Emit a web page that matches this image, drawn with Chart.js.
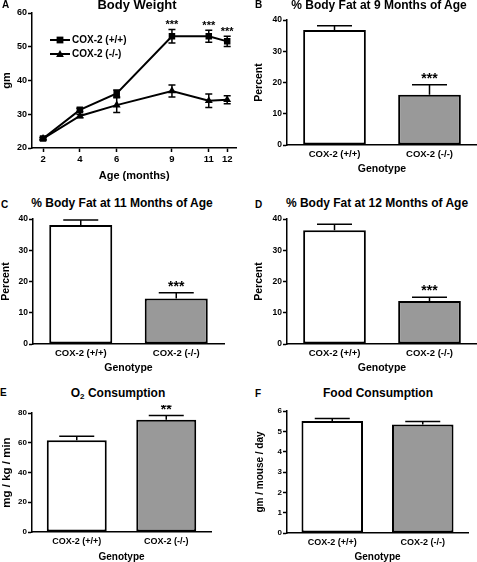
<!DOCTYPE html>
<html>
<head>
<meta charset="utf-8">
<script src="https://cdn.jsdelivr.net/npm/chart.js@4.4.0/dist/chart.umd.min.js"></script>
<style>
  body { margin: 0; background: #fff; width: 477px; height: 562px; position: relative; overflow: hidden;
         font-family: "Liberation Sans", Arial, sans-serif; }
  canvas { position: absolute; }
  .txt { position: absolute; font-weight: bold; line-height: 1; white-space: nowrap; color: #000; }
</style>
</head>
<body>
<canvas id="chartA" width="241" height="178"></canvas>
<canvas id="chartB" width="224" height="163"></canvas>
<canvas id="chartC" width="228" height="163"></canvas>
<canvas id="chartD" width="224" height="163"></canvas>
<canvas id="chartE" width="215" height="158"></canvas>
<canvas id="chartF" width="218" height="160"></canvas>

<script>
// ---- data ----
const ages = [2, 4, 6, 9, 11, 12];
const ageTicks = [2, 4, 6, 9, 11, 12];
const weightWT = [22.8, 31.3, 36.2, 53.1, 53.1, 51.6];
const weightWTErr = [0.3, 0.5, 1.0, 2.0, 1.8, 1.5];
const weightKO = [22.8, 29.5, 32.7, 36.9, 34.0, 34.3];
const weightKOErr = [0.3, 0.5, 2.2, 1.8, 2.0, 1.2];
const weightStars = ['', '', '', '***', '***', '***'];

const genotypes = ['COX-2 (+/+)', 'COX-2 (-/-)'];
const fat9 = [36.8, 16.1];
const fat9Err = [1.4, 3.2];
const fat11 = [38.1, 14.6];
const fat11Err = [1.6, 1.8];
const fat12 = [36.4, 13.8];
const fat12Err = [1.9, 1.2];
const fatStars = ['', '***'];
const o2 = [61.6, 75.5];
const o2Err = [2.7, 2.9];
const o2Stars = ['', '**'];
const food = [5.51, 5.33];
const foodErr = [0.12, 0.15];

// ---- panel letters and titles ----
const labels = [
  { t: 'A', x: 2, base: 8.5, size: 10 },
  { t: 'B', x: 255, base: 8.5, size: 10 },
  { t: 'C', x: 1, base: 208.3, size: 10 },
  { t: 'D', x: 255, base: 208.3, size: 10 },
  { t: 'E', x: 0, base: 396.7, size: 10 },
  { t: 'F', x: 255, base: 397.5, size: 10 },
  { t: 'Body Weight', cx: 137, base: 9, size: 13 },
  { t: '% Body Fat at 9 Months of Age', cx: 379, base: 9, size: 12 },
  { t: '% Body Fat at 11 Months of Age', cx: 122, base: 207.3, size: 12 },
  { t: '% Body Fat at 12 Months of Age', cx: 377, base: 207.3, size: 12 },
  { t: 'O<sub style="font-size:8px;vertical-align:-2px">2</sub> Consumption', cx: 118, base: 396.7, size: 12 },
  { t: 'Food Consumption', cx: 378, base: 396.7, size: 12 }
];
labels.forEach(l => {
  const d = document.createElement('div');
  d.className = 'txt';
  d.innerHTML = l.t;
  d.style.fontSize = l.size + 'px';
  d.style.top = (l.base - 0.8465 * l.size) + 'px';
  if (l.cx !== undefined) {
    d.style.left = l.cx + 'px';
    d.style.transform = 'translateX(-50%)';
  } else {
    d.style.left = l.x + 'px';
  }
  document.body.appendChild(d);
});

Chart.defaults.font.family = '"Liberation Sans", Arial, sans-serif';
Chart.defaults.font.weight = 'bold';
Chart.defaults.color = '#000';

// error bars + significance stars, drawn through the chart's scales
const errorBars = {
  id: 'errorBars',
  afterDatasetsDraw(chart) {
    const ctx = chart.ctx;
    chart.data.datasets.forEach((ds, i) => {
      if (!ds.errors) return;
      const meta = chart.getDatasetMeta(i);
      const yScale = chart.scales[meta.yAxisID];
      ctx.save();
      ctx.strokeStyle = '#000';
      ctx.lineWidth = 1.5;
      meta.data.forEach((el, j) => {
        const d = ds.data[j];
        const v = typeof d === 'object' ? d.y : d;
        const e = ds.errors[j];
        const x = el.x;
        const yTop = yScale.getPixelForValue(v + e);
        const yBot = ds.errorBoth ? yScale.getPixelForValue(v - e) : yScale.getPixelForValue(v);
        const hw = ds.capWidth / 2;
        ctx.beginPath();
        ctx.moveTo(x, yTop); ctx.lineTo(x, yBot);
        ctx.moveTo(x - hw, yTop); ctx.lineTo(x + hw, yTop);
        if (ds.errorBoth) { ctx.moveTo(x - hw, yBot); ctx.lineTo(x + hw, yBot); }
        ctx.stroke();
        if (ds.stars && ds.stars[j]) {
          ctx.fillStyle = '#000';
          ctx.font = 'bold ' + ds.starSize + 'px "Liberation Sans", Arial, sans-serif';
          ctx.textAlign = 'center';
          ctx.textBaseline = 'alphabetic';
          ctx.fillText(ds.stars[j], x, yTop - ds.starGap);
        }
      });
      ctx.restore();
    });
  }
};

const insetLegend = {
  id: 'insetLegend',
  afterDraw(chart, args, opts) {
    if (!opts || !opts.display) return;
    const ctx = chart.ctx;
    const ca = chart.chartArea;
    chart.data.datasets.forEach((ds, i) => {
      const x = ca.left + opts.left;
      const y = ca.top + opts.top + i * opts.gap;
      ctx.save();
      ctx.strokeStyle = '#000';
      ctx.fillStyle = '#000';
      ctx.lineWidth = 2;
      ctx.beginPath(); ctx.moveTo(x, y); ctx.lineTo(x + 20, y); ctx.stroke();
      const r = 3.4;
      ctx.beginPath();
      if (ds.pointStyle === 'rect') {
        ctx.rect(x + 10 - r, y - r, 2 * r, 2 * r);
      } else {
        ctx.moveTo(x + 10, y - r - 0.5);
        ctx.lineTo(x + 10 + r + 0.5, y + r - 0.5);
        ctx.lineTo(x + 10 - r - 0.5, y + r - 0.5);
        ctx.closePath();
      }
      ctx.fill();
      ctx.font = 'bold 10px "Liberation Sans", Arial, sans-serif';
      ctx.textBaseline = 'middle';
      ctx.textAlign = 'left';
      ctx.fillText(ds.label, x + 22, y + 0.5);
      ctx.restore();
    });
  }
};

function place(id, area, yW, xH, padTop, padRight) {
  const c = document.getElementById(id);
  c.style.left = (area.l - yW) + 'px';
  c.style.top = (area.t - padTop) + 'px';
  c.width = area.r - area.l + yW + padRight;
  c.height = area.b - area.t + padTop + xH;
  return c;
}

function yAxis(min, max, step, title, w, tickSize, titleSize) {
  return {
    min: min, max: max,
    ticks: { stepSize: step, color: '#000', font: { size: tickSize, weight: 'bold' }, padding: 1 },
    grid: { drawOnChartArea: false, drawTicks: true, tickLength: 4, tickColor: '#000', tickWidth: 1.5 },
    border: { display: true, color: '#000', width: 1.5 },
    title: { display: true, text: title, color: '#000', font: { size: titleSize, weight: 'bold' }, padding: 0 },
    afterFit: s => { s.width = w; }
  };
}

function barChart(id, area, yW, xH, values, errs, stars, yMin, yMax, step, yTitle, opts) {
  const c = place(id, area, yW, xH, 8, opts.padRight || 0);
  return new Chart(c, {
    type: 'bar',
    data: {
      labels: genotypes,
      datasets: [{
        data: values,
        backgroundColor: ['#ffffff', '#999999'],
        borderColor: '#000',
        borderWidth: 2,
        borderSkipped: false,
        barPercentage: opts.barPct,
        categoryPercentage: 1,
        errors: errs,
        errorBoth: false,
        capWidth: 35,
        stars: stars,
        starSize: opts.starSize || 14,
        starGap: opts.starGap || 2
      }]
    },
    options: {
      responsive: false,
      animation: false,
      events: [],
      layout: { padding: { top: 8, right: opts.padRight || 0, left: 0, bottom: 0 } },
      plugins: { legend: { display: false }, tooltip: { enabled: false } },
      scales: {
        x: {
          ticks: { color: '#000', font: { size: opts.xTick, weight: 'bold' }, padding: opts.xPad },
          grid: { drawOnChartArea: false, drawTicks: false },
          border: { display: true, color: '#000', width: 1.5 },
          title: { display: true, text: 'Genotype', color: '#000', font: { size: opts.xTitle, weight: 'bold' }, padding: 0 },
          afterFit: s => { s.height = xH; }
        },
        y: yAxis(yMin, yMax, step, yTitle, yW, opts.yTick, opts.yTitle)
      }
    },
    plugins: [errorBars]
  });
}

// ---- A: body weight ----
const areaA = { l: 32, t: 13, r: 238, b: 148 };
const cA = place('chartA', areaA, 32, 35, 8, 3);
new Chart(cA, {
  type: 'line',
  data: {
    datasets: [
      {
        label: 'COX-2 (+/+)',
        data: ages.map((a, i) => ({ x: a, y: weightWT[i] })),
        borderColor: '#000', backgroundColor: '#000', borderWidth: 2,
        pointStyle: 'rect', pointRadius: 4.6, pointBorderWidth: 0,
        errors: weightWTErr, errorBoth: true, capWidth: 7,
        stars: weightStars, starSize: 11, starGap: 1.5
      },
      {
        label: 'COX-2 (-/-)',
        data: ages.map((a, i) => ({ x: a, y: weightKO[i] })),
        borderColor: '#000', backgroundColor: '#000', borderWidth: 2,
        pointStyle: 'triangle', pointRadius: 4.6, pointBorderWidth: 0,
        errors: weightKOErr, errorBoth: true, capWidth: 7
      }
    ]
  },
  options: {
    responsive: false,
    animation: false,
    events: [],
    layout: { padding: { top: 8, right: 3, left: 0, bottom: 0 } },
    plugins: {
      legend: { display: false },
      tooltip: { enabled: false },
      insetLegend: { display: true, left: 18, top: 27, gap: 14 }
    },
    scales: {
      x: {
        type: 'linear', min: 1.4, max: 12.5,
        afterBuildTicks: s => { s.ticks = ageTicks.map(v => ({ value: v })); },
        ticks: { color: '#000', font: { size: 9.5, weight: 'bold' }, padding: 2 },
        grid: { drawOnChartArea: false, drawTicks: true, tickLength: 4, tickColor: '#000', tickWidth: 1.5 },
        border: { display: true, color: '#000', width: 1.5 },
        title: { display: true, text: 'Age (months)', color: '#000', font: { size: 11, weight: 'bold' }, padding: 0 },
        afterFit: s => { s.height = 35; }
      },
      y: yAxis(20, 60, 10, 'gm', 32, 9, 11)
    }
  },
  plugins: [errorBars, insetLegend]
});

// ---- B, C, D: body fat ----
barChart('chartB', { l: 287, t: 20, r: 477, b: 145 }, 34, 30, fat9, fat9Err, fatStars, 0, 40, 10, 'Percent',
  { barPct: 0.66, xTick: 9.5, xPad: 4, xTitle: 10.5, yTick: 8.5, yTitle: 10.5, starSize: 14, starGap: 2 });
barChart('chartC', { l: 33, t: 219, r: 224, b: 344 }, 33, 30, fat11, fat11Err, fatStars, 0, 40, 10, 'Percent',
  { barPct: 0.66, xTick: 9.5, xPad: 4, xTitle: 10.5, yTick: 8.5, yTitle: 10.5, starSize: 14, starGap: 2, padRight: 4 });
barChart('chartD', { l: 287, t: 219, r: 477, b: 344 }, 34, 30, fat12, fat12Err, fatStars, 0, 40, 10, 'Percent',
  { barPct: 0.66, xTick: 9.5, xPad: 4, xTitle: 10.5, yTick: 8.5, yTitle: 10.5, starSize: 14, starGap: 2 });

// ---- E: O2 consumption, F: food consumption ----
barChart('chartE', { l: 32, t: 413, r: 211, b: 532 }, 32, 31, o2, o2Err, o2Stars, 0, 80, 20, 'mg / kg / min',
  { barPct: 0.67, xTick: 9, xPad: 4, xTitle: 10, yTick: 8, yTitle: 11.5, starSize: 14, starGap: 1, padRight: 4 });
barChart('chartF', { l: 287, t: 411, r: 468, b: 533 }, 33, 30, food, foodErr, null, 0, 6, 1, 'gm / mouse / day',
  { barPct: 0.68, xTick: 9, xPad: 4, xTitle: 10, yTick: 8, yTitle: 10, padRight: 4 });
</script>
</body>
</html>
